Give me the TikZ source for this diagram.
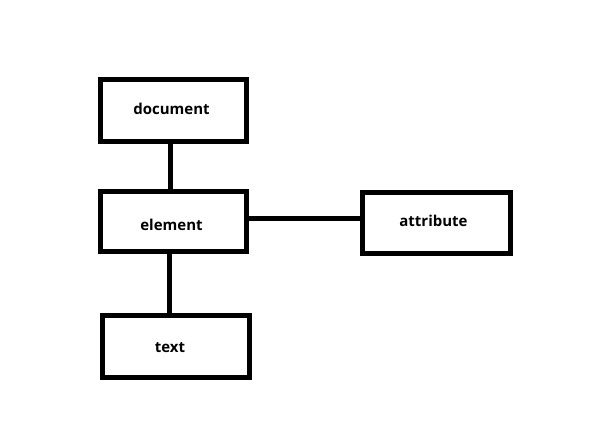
\documentclass[tikz,border=0pt]{standalone}
\usepackage{fontspec}
\setmainfont{Open Sans}[BoldFont={Open Sans Bold}]
\begin{document}
\begin{tikzpicture}[x=1pt,y=-1pt,
  box/.style={draw=black, line width=5pt, fill=white, inner sep=0pt},
  lbl/.style={inner sep=0pt, font=\bfseries\fontsize{15}{17}\selectfont},
  conn/.style={draw=black, line width=5pt}]
\useasboundingbox (0,0) rectangle (596,445);
\node[box, minimum width=146pt, minimum height=62pt] (doc) at (173.5,110.5) {};
\node[box, minimum width=146pt, minimum height=60pt] (el) at (173.5,221.5) {};
\node[box, minimum width=148pt, minimum height=61pt] (attr) at (436,223) {};
\node[box, minimum width=147pt, minimum height=62pt] (txt) at (176,346.5) {};
\node[lbl] (docl) at (171.5,109) {document};
\node[lbl] (ell) at (171.5,224.5) {element};
\node[lbl] (attrl) at (433.5,221) {attribute};
\node[lbl] (txtl) at (170,348) {text};
\draw[conn] ([xshift=-3.5pt]doc.south) -- ([xshift=-3.5pt]doc.south |- el.north);
\draw[conn] ([yshift=3.5pt]el.east) -- ([yshift=3.5pt]el.east -| attr.west);
\draw[conn] ([xshift=-4.5pt]el.south) -- ([xshift=-4.5pt]el.south |- txt.north);
\end{tikzpicture}
\end{document}
